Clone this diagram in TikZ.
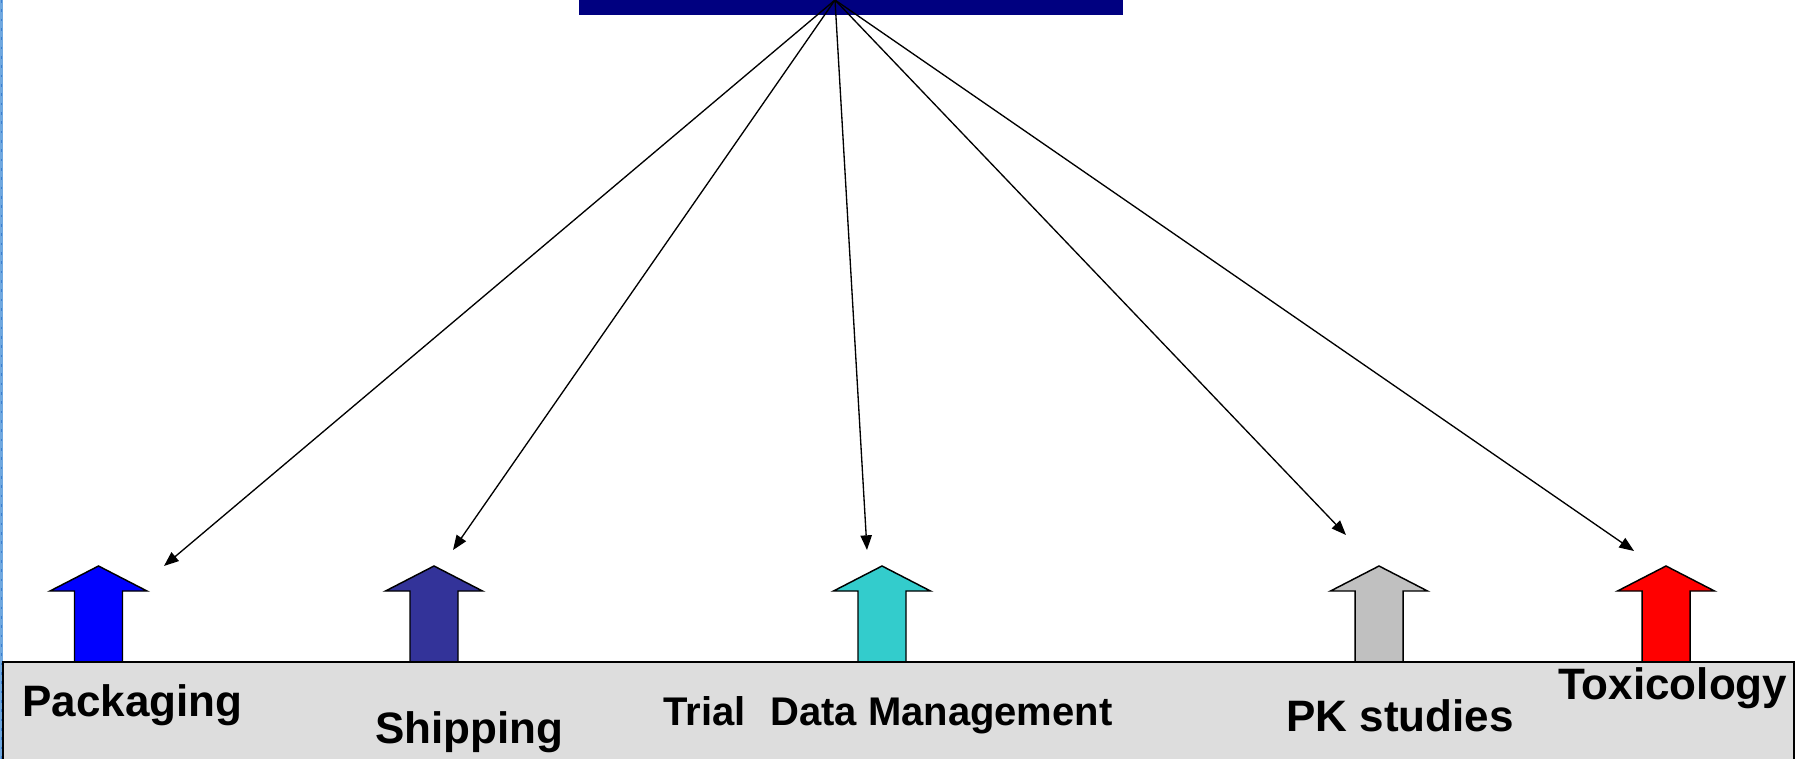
\documentclass[tikz,border=0pt]{standalone}
\usepackage{fontspec}
\setmainfont{Liberation Sans}
\usetikzlibrary{arrows.meta}
\definecolor{navybar}{HTML}{000080}
\definecolor{boxgrey}{HTML}{DDDDDD}
\definecolor{stripblue}{HTML}{6FA8E0}
\definecolor{stripdark}{HTML}{3C7FD0}
\definecolor{cpack}{HTML}{0000FF}
\definecolor{cship}{HTML}{333399}
\definecolor{cdata}{HTML}{33CCCC}
\definecolor{cpk}{HTML}{C0C0C0}
\definecolor{ctox}{HTML}{FF0000}
\newcommand\blkarrow[3]{%
  \filldraw[blockarrow, fill=#2] (#1,566) coordinate (#3) -- (#1+48.5,591) -- (#1+24,591) -- (#1+24,662) -- (#1-24,662) -- (#1-24,591) -- (#1-48.5,591) -- cycle;}
\begin{document}
\begin{tikzpicture}[x=0.75pt,y=-0.75pt,
  blockarrow/.style={draw=black, line width=1.1pt, line join=miter},
  conn/.style={draw=black, line width=1pt, -{Triangle[length=11pt,width=8.5pt]}},
  lbl/.style={font=\fontsize{33pt}{36pt}\selectfont\bfseries, anchor=base west, inner sep=0pt},
  lbls/.style={font=\fontsize{30pt}{34pt}\selectfont\bfseries, anchor=base west, inner sep=0pt}]
\useasboundingbox (0,0) rectangle (1797,759);
\fill[white] (0,0) rectangle (1797,759);
% left strip
\fill[stripblue] (0,0) rectangle (3,759);
\draw[stripdark, line width=1pt, dash pattern=on 2pt off 5pt] (1.5,0) -- (1.5,759);
% top bar
\fill[navybar] (579,0) rectangle (1123,15);
\coordinate (apex) at (835,0);
% block arrows
\blkarrow{98.5}{cpack}{apack}
\blkarrow{434}{cship}{aship}
\blkarrow{882}{cdata}{adata}
\blkarrow{1379}{cpk}{apk}
\blkarrow{1666}{ctox}{atox}
% grey box
\draw[fill=boxgrey, line width=1.1pt] (3,662) rectangle (1794,775);
% connector ends
\coordinate (tpack) at (164,566);
\coordinate (tship) at (453,550);
\coordinate (tdata) at (867,550);
\coordinate (tpk) at (1346,535);
\coordinate (ttox) at (1634,551);
\draw[conn] (apex) -- (tpack);
\draw[conn] (apex) -- (tship);
\draw[conn] (apex) -- (tdata);
\draw[conn] (apex) -- (tpk);
\draw[conn] (apex) -- (ttox);
% labels
\node[lbl] (lpack) at (22,716) {Packaging};
\node[lbl] (lship) at (375,743) {Shipping};
\node[lbls] (ltrial) at (663,725) {Trial};
\node[lbls] (ldata) at (770,725) {Data Management};
\node[lbl] (lpk) at (1286,731) {PK studies};
\node[lbl] (ltox) at (1558,699) {Toxicology};
\end{tikzpicture}
\end{document}
